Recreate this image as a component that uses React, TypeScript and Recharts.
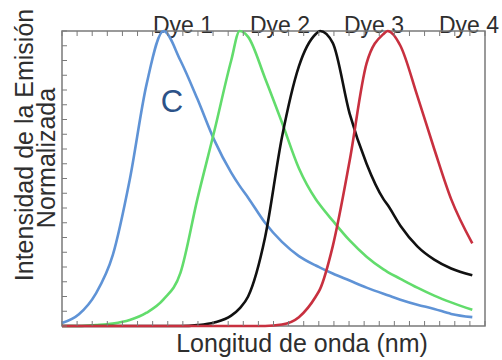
import React from "react";
import { LineChart, Line, XAxis, YAxis, ReferenceArea } from "recharts";

// wavelength positions (arbitrary units, 0..100 across the frame)
const wavelength = [0, 4, 8, 12, 16, 20, 24, 28, 32, 36, 40, 42, 44, 48, 52, 56, 60, 61, 64, 68, 72, 76, 77, 80, 84, 88, 92, 97];

const dye1 = [0.01, 0.04, 0.11, 0.24, 0.495, 0.82, 1.0, 0.9, 0.77, 0.63, 0.52, 0.475, 0.435, 0.35, 0.285, 0.237, 0.205, 0.198, 0.178, 0.154, 0.13, 0.109, 0.104, 0.089, 0.072, 0.058, 0.041, 0.03];
const dye2 = [0, 0, 0.003, 0.008, 0.02, 0.045, 0.09, 0.18, 0.43, 0.66, 0.9, 1.0, 0.98, 0.84, 0.69, 0.535, 0.43, 0.41, 0.357, 0.29, 0.235, 0.192, 0.183, 0.16, 0.13, 0.103, 0.08, 0.055];
const dye3 = [0, 0, 0, 0, 0, 0, 0, 0, 0.003, 0.012, 0.035, 0.06, 0.1, 0.3, 0.64, 0.88, 0.99, 1.0, 0.96, 0.72, 0.55, 0.43, 0.41, 0.34, 0.27, 0.225, 0.195, 0.172];
const dye4 = [0, 0, 0, 0, 0, 0, 0, 0, 0, 0, 0, 0, 0, 0, 0.005, 0.03, 0.1, 0.125, 0.27, 0.56, 0.89, 0.99, 1.0, 0.95, 0.78, 0.6, 0.43, 0.28];

const dyeLabels = ["Dye 1", "Dye 2", "Dye 3", "Dye 4"];
const dyeLabelX = [183, 280, 374, 469];

const xTicks = Array.from({ length: 29 }, (_, i) => (i * 100) / 28);
const yTicks = Array.from({ length: 21 }, (_, i) => i * 0.05);

const data = wavelength.map((w, i) => ({ w, d1: dye1[i], d2: dye2[i], d3: dye3[i], d4: dye4[i] }));

const frame = "#7a7a7a";
const textColor = "#2e2e2e";
const font = "'Liberation Sans', Arial, sans-serif";
const blank = () => "";

export default function App() {
    return (
        <div style={{ position: "absolute", left: 0, top: 0, width: 502, height: 360, background: "#fff" }}>
            <LineChart width={502} height={360} data={data} margin={{ top: 31, right: 17, bottom: 34, left: 62 }}>
                <XAxis xAxisId="b" dataKey="w" type="number" domain={[0, 100]} ticks={xTicks} orientation="bottom"
                    height={1} mirror tickFormatter={blank} tickSize={5} axisLine={false} tickLine={{ stroke: frame }} />
                <XAxis xAxisId="t" dataKey="w" type="number" domain={[0, 100]} ticks={xTicks} orientation="top"
                    height={1} mirror tickFormatter={blank} tickSize={5} axisLine={false} tickLine={{ stroke: frame }} />
                <YAxis yAxisId="l" type="number" domain={[0, 1]} ticks={yTicks} orientation="left"
                    width={1} mirror tickFormatter={blank} tickSize={5} axisLine={false} tickLine={{ stroke: frame }} />
                <YAxis yAxisId="r" type="number" domain={[0, 1]} ticks={yTicks} orientation="right"
                    width={1} mirror tickFormatter={blank} tickSize={5} axisLine={false} tickLine={{ stroke: frame }} />
                <ReferenceArea xAxisId="b" yAxisId="l" x1={0} x2={100} y1={0} y2={1} fill="none" stroke={frame} strokeWidth={1.5} ifOverflow="visible" />
                <Line xAxisId="b" yAxisId="l" type="monotone" dataKey="d1" stroke="#5f93d6" strokeWidth={2.6} dot={false} isAnimationActive={false} />
                <Line xAxisId="b" yAxisId="l" type="monotone" dataKey="d2" stroke="#62dc6c" strokeWidth={2.6} dot={false} isAnimationActive={false} />
                <Line xAxisId="b" yAxisId="l" type="monotone" dataKey="d3" stroke="#111111" strokeWidth={2.6} dot={false} isAnimationActive={false} />
                <Line xAxisId="b" yAxisId="l" type="monotone" dataKey="d4" stroke="#c8303f" strokeWidth={2.6} dot={false} isAnimationActive={false} />
                {dyeLabels.map((t, i) => (
                    <text key={t} x={dyeLabelX[i]} y={33} textAnchor="middle" fontFamily={font} fontSize={23} fill={textColor}>{t}</text>
                ))}
                <text x={172} y={112} textAnchor="middle" fontFamily={font} fontSize={31} fill="#2c5288">C</text>
                <text x={302} y={352} textAnchor="middle" fontFamily={font} fontSize={25} fill={textColor}>Longitud de onda (nm)</text>
                <text transform="translate(33,145) rotate(-90)" textAnchor="middle" fontFamily={font} fontSize={25} fill={textColor}>Intensidad de la Emisión</text>
                <text transform="translate(55,158) rotate(-90)" textAnchor="middle" fontFamily={font} fontSize={25} fill={textColor}>Normalizada</text>
            </LineChart>
        </div>
    );
}
